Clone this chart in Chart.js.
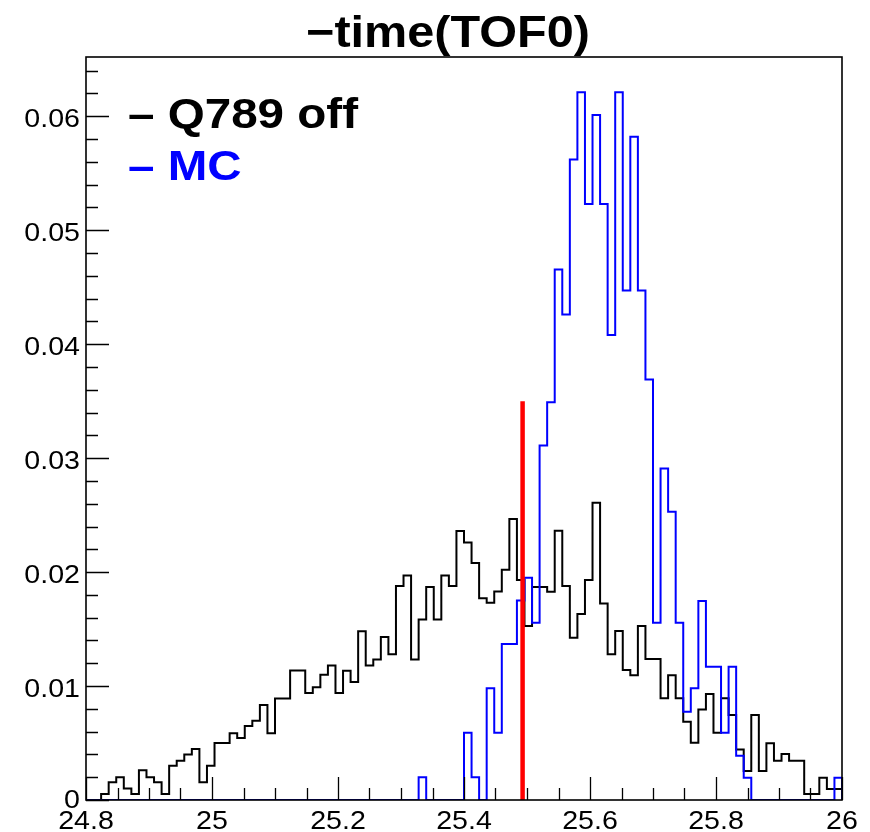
<!DOCTYPE html>
<html>
<head>
<meta charset="utf-8">
<title>-time(TOF0)</title>
<script src="https://cdn.jsdelivr.net/npm/chart.js@4.4.1/dist/chart.umd.min.js"></script>
<style>
  html, body { margin: 0; padding: 0; background: #fff; }
</style>
</head>
<body>
<canvas id="chart" width="870" height="832"></canvas>
<script>
// histogram binning: 100 bins from 24.8 to 26
var binLow = 24.8;
var binWidth = 0.012;

// Q789 off (black), normalised bin contents
var dataCounts = [
  0, 0, 0.00053, 0.00155, 0.0020, 0.0010, 0.00053, 0.0026, 0.0020, 0.00155,
  0.00053, 0.0030, 0.00345, 0.0040, 0.00447, 0.00155, 0.0030, 0.0050, 0.0050, 0.00585,
  0.00544, 0.0065, 0.00696, 0.00833, 0.00585, 0.0089, 0.0089, 0.01137, 0.01137, 0.0094,
  0.0099, 0.0110, 0.0118, 0.0094, 0.01135, 0.01035, 0.0148, 0.0118, 0.01234, 0.0143,
  0.0128, 0.01877, 0.0197, 0.01234, 0.01585, 0.0187, 0.01585, 0.0197, 0.01877, 0.0236,
  0.0226, 0.0208, 0.0177, 0.0173, 0.0183, 0.0202, 0.02465, 0.0193, 0.01526, 0.0187,
  0.0187, 0.01827, 0.02363, 0.01877, 0.01424, 0.01632, 0.0193, 0.02608, 0.01725, 0.01278,
  0.01482, 0.0114, 0.01094, 0.01526, 0.01237, 0.01237, 0.00892, 0.01094, 0.00892, 0.00687,
  0.00503, 0.00795, 0.0093, 0.0059, 0.00892, 0.00746, 0.00444, 0.00254, 0.00746, 0.00254,
  0.00497, 0.00345, 0.00404, 0.00345, 0.00345, 0.00053, 0.00053, 0.00196, 0.00096, 0.00096
];

// MC (blue)
var mcCounts = [
  0, 0, 0, 0, 0, 0, 0, 0, 0, 0,
  0, 0, 0, 0, 0, 0, 0, 0, 0, 0,
  0, 0, 0, 0, 0, 0, 0, 0, 0, 0,
  0, 0, 0, 0, 0, 0, 0, 0, 0, 0,
  0, 0, 0, 0, 0.002, 0, 0, 0, 0, 0,
  0.0059, 0.002, 0, 0.0098, 0.0059, 0.01368, 0.01368, 0.0175, 0.0195, 0.01555,
  0.0311, 0.0349, 0.04655, 0.0426, 0.0562, 0.0621, 0.0523, 0.0601, 0.0523, 0.0408,
  0.0621, 0.0447, 0.0582, 0.0447, 0.0369, 0.01555, 0.0291, 0.0253, 0.01555, 0.00775,
  0.0098, 0.01746, 0.0117, 0.0117, 0.0059, 0.0117, 0.00389, 0.00196, 0, 0,
  0, 0, 0, 0, 0, 0, 0, 0, 0, 0.00196
];

// cut line
var cutValue = 25.493;
var cutTop = 0.035;

var xRange = [24.8, 26];
var yRange = [0, 0.0652];
var xTickValues = [24.8, 25, 25.2, 25.4, 25.6, 25.8, 26];
var xTickLabels = ['24.8', '25', '25.2', '25.4', '25.6', '25.8', '26'];
var yTickValues = [0, 0.01, 0.02, 0.03, 0.04, 0.05, 0.06];
var yTickLabels = ['0', '0.01', '0.02', '0.03', '0.04', '0.05', '0.06'];

var titleText = '\u2212time(TOF0)';
var legendNames = ['\u2013 Q789 off', '\u2013 MC'];
var legendColors = ['#000000', '#0000ff'];

function histPoints(counts) {
  var pts = [];
  for (var i = 0; i < counts.length; i++) {
    pts.push({ x: binLow + i * binWidth, y: counts[i] });
  }
  var end = binLow + counts.length * binWidth;
  pts.push({ x: end, y: counts[counts.length - 1] });
  pts.push({ x: end, y: 0 });
  return pts;
}

// draw text squeezed/stretched horizontally (ROOT canvas was resized)
function wideText(ctx, txt, x, y, font, color, sx, align) {
  ctx.save();
  ctx.font = font;
  ctx.fillStyle = color;
  ctx.textAlign = 'left';
  ctx.textBaseline = 'alphabetic';
  var w = ctx.measureText(txt).width * sx;
  var left = x;
  if (align === 'center') left = x - w / 2;
  if (align === 'right') left = x - w;
  ctx.translate(left, y);
  ctx.scale(sx, 1);
  ctx.fillText(txt, 0, 0);
  ctx.restore();
}

function fitScale(ctx, txt, font, width) {
  ctx.save();
  ctx.font = font;
  var w = ctx.measureText(txt).width;
  ctx.restore();
  return width / w;
}

var rootStyle = {
  id: 'rootStyle',
  afterDraw: function (chart) {
    var ctx = chart.ctx;
    var a = chart.chartArea;
    var xs = chart.scales.x;
    var ys = chart.scales.y;

    ctx.save();
    ctx.strokeStyle = '#000';
    ctx.lineWidth = 1.6;
    ctx.strokeRect(a.left, a.top, a.right - a.left, a.bottom - a.top);

    // ticks inside the frame
    ctx.lineWidth = 1.3;
    ctx.beginPath();
    for (var i = 0; i <= 24; i++) {
      var px = Math.round(xs.getPixelForValue(xRange[0] + i * 0.05)) + 0.5;
      var len = (i % 4 === 0) ? 23 : 12;
      ctx.moveTo(px, a.bottom);
      ctx.lineTo(px, a.bottom - len);
    }
    for (var j = 0; j * 0.002 <= yRange[1]; j++) {
      var py = Math.round(ys.getPixelForValue(j * 0.002)) + 0.5;
      var ylen = (j % 5 === 0) ? 23 : 12;
      ctx.moveTo(a.left, py);
      ctx.lineTo(a.left + ylen, py);
    }
    ctx.stroke();
    ctx.restore();

    var labFont = '26px "Liberation Sans", Arial, sans-serif';
    xTickValues.forEach(function (v, k) {
      wideText(ctx, xTickLabels[k], xs.getPixelForValue(v), 829, labFont, '#000', 1.1, 'center');
    });
    yTickValues.forEach(function (v, k) {
      var py = ys.getPixelForValue(v);
      var base = (v === 0) ? py + 8 : py + 11;
      wideText(ctx, yTickLabels[k], 80, base, labFont, '#000', 1.1, 'right');
    });

    // title
    var tFont = 'bold 44px "Liberation Sans", Arial, sans-serif';
    var tsx = fitScale(ctx, titleText, tFont, 284);
    wideText(ctx, titleText, 448, 47, tFont, '#000', tsx, 'center');

    // legend
    var lFont = 'bold 43px "Liberation Sans", Arial, sans-serif';
    var lsx = fitScale(ctx, legendNames[0], lFont, 230);
    wideText(ctx, legendNames[0], 128, 128, lFont, legendColors[0], lsx, 'left');
    wideText(ctx, legendNames[1], 128, 180, lFont, legendColors[1], lsx, 'left');
  }
};

var config = {
  type: 'line',
  data: {
    datasets: [
      {
        label: 'cut',
        data: [{ x: cutValue, y: 0 }, { x: cutValue, y: cutTop }],
        borderColor: '#ff0000',
        borderWidth: 4.5,
        pointRadius: 0,
        order: 0
      },
      {
        label: 'MC',
        data: histPoints(mcCounts),
        borderColor: '#0000ff',
        borderWidth: 2,
        pointRadius: 0,
        stepped: 'before',
        order: 1
      },
      {
        label: 'Q789 off',
        data: histPoints(dataCounts),
        borderColor: '#000000',
        borderWidth: 2,
        pointRadius: 0,
        stepped: 'before',
        order: 2
      }
    ]
  },
  options: {
    responsive: false,
    animation: false,
    devicePixelRatio: 1,
    layout: { padding: { left: 0, right: 28, top: 57, bottom: 0 } },
    plugins: {
      legend: { display: false },
      title: { display: false },
      tooltip: { enabled: false }
    },
    scales: {
      x: {
        type: 'linear',
        min: xRange[0],
        max: xRange[1],
        grid: { display: false },
        border: { display: false },
        ticks: { display: false },
        afterFit: function (s) { s.height = 32; }
      },
      y: {
        type: 'linear',
        min: yRange[0],
        max: yRange[1],
        grid: { display: false },
        border: { display: false },
        ticks: { display: false },
        afterFit: function (s) { s.width = 86; }
      }
    }
  },
  plugins: [rootStyle]
};

var ctx = document.getElementById('chart').getContext('2d');
window.myChart = new Chart(ctx, config);
</script>
</body>
</html>
